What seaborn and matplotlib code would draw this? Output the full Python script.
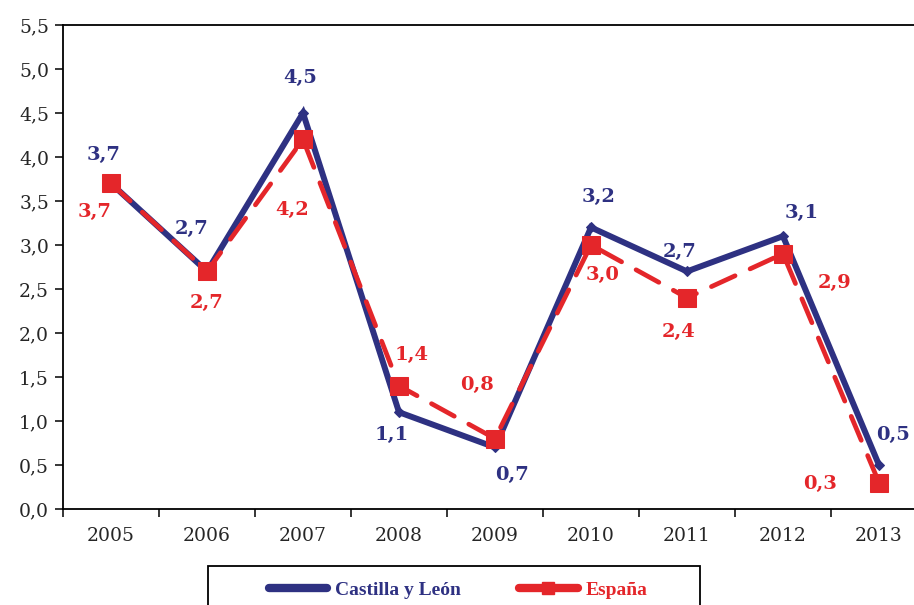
import matplotlib
matplotlib.use("Agg")
import matplotlib.pyplot as plt
import seaborn as sns
import pandas as pd
from matplotlib.patches import Rectangle
from matplotlib.lines import Line2D

years = ["2005", "2006", "2007", "2008", "2009", "2010", "2011", "2012", "2013"]
castilla = [3.7, 2.7, 4.5, 1.1, 0.7, 3.2, 2.7, 3.1, 0.5]
espana = [3.7, 2.7, 4.2, 1.4, 0.8, 3.0, 2.4, 2.9, 0.3]
y_ticks = [0.0, 0.5, 1.0, 1.5, 2.0, 2.5, 3.0, 3.5, 4.0, 4.5, 5.0, 5.5]
series_names = ["Castilla y León", "España"]

# label offsets (pixels) — styling only
cyl_offsets = [(-7, 28), (-15, 42), (-3, 35), (-7, -23), (17, -28), (8, 30), (-7, 19), (19, 23), (14, 30)]
es_offsets = [(-16, -29), (0, -32), (-11, -71), (13, 31), (-18, 54), (12, -30), (-8, -34), (52, -29), (-59, -1)]

NAVY = "#2E3182"
RED = "#E4262A"

sns.set_style("ticks")
plt.rcParams["font.family"] = ["DejaVu Serif", "DejaVu Sans"]

fig = plt.figure(figsize=(9.14, 6.05), dpi=100)
ax = fig.add_axes([63 / 914, 96 / 605, 864 / 914, 484 / 605])

pos = list(range(len(years)))
df_c = pd.DataFrame({"x": pos, "y": castilla})
df_e = pd.DataFrame({"x": pos, "y": espana})

sns.lineplot(data=df_c, x="x", y="y", ax=ax, color=NAVY, linewidth=4.3,
             marker="D", markersize=5, markeredgecolor=NAVY, label=series_names[0],
             solid_joinstyle="miter", zorder=3)
sns.lineplot(data=df_e, x="x", y="y", ax=ax, color=RED, linewidth=3.4,
             marker="s", markersize=13, markeredgecolor=RED, label=series_names[1],
             zorder=4)
lines = ax.get_lines()
lines[1].set_linestyle((0, (5.5, 3.5)))
lines[1].set_dash_capstyle("round")

for i, v in enumerate(castilla):
    ax.annotate(f"{v:.1f}".replace(".", ","), (pos[i], v), xytext=cyl_offsets[i],
                textcoords="offset pixels", ha="center", va="center",
                fontsize=14, fontweight="bold", color=NAVY, zorder=6)
for i, v in enumerate(espana):
    ax.annotate(f"{v:.1f}".replace(".", ","), (pos[i], v), xytext=es_offsets[i],
                textcoords="offset pixels", ha="center", va="center",
                fontsize=14, fontweight="bold", color=RED, zorder=6)

ax.set_xlim(-0.5, len(years) - 0.5)
ax.set_ylim(0, 5.5)
ax.set_yticks(y_ticks)
ax.set_yticklabels([f"{t:.1f}".replace(".", ",") for t in y_ticks], fontsize=13.5)
ax.set_xticks([p - 0.5 for p in pos] + [len(years) - 0.5])
ax.set_xticklabels([])
ax.set_xticks(pos, minor=True)
ax.set_xticklabels(years, minor=True, fontsize=13.5)
ax.tick_params(axis="x", which="minor", length=0, pad=13)
ax.tick_params(axis="x", which="major", length=6, width=1.3, direction="out")
ax.tick_params(axis="y", length=6, width=1.3, direction="out", pad=4)
ax.set_xlabel("")
ax.set_ylabel("")
for s in ["left", "bottom", "top", "right"]:
    ax.spines[s].set_visible(True)
    ax.spines[s].set_linewidth(1.3)
    ax.spines[s].set_color("black")
ax.grid(False)
ax.get_legend().remove()

# legend
fig.add_artist(Rectangle((208 / 914, -0.05), 492 / 914, (605 - 566) / 605 + 0.05,
                         transform=fig.transFigure, fill=False, lw=1.3, edgecolor="black"))
handles = [
    Line2D([], [], color=NAVY, lw=6, solid_capstyle="round", marker="D", markersize=3,
           markeredgecolor=NAVY),
    Line2D([], [], color=RED, lw=6, solid_capstyle="round", marker="s", markersize=9,
           markeredgecolor=RED),
]
leg = fig.legend(handles, series_names, loc="center", bbox_to_anchor=(458 / 914, 1 - 590 / 605),
                 ncol=2, frameon=False, handlelength=3.0, handletextpad=0.4, columnspacing=3.0,
                 prop={"family": "Liberation Serif", "weight": "bold", "size": 14})
for t, c in zip(leg.get_texts(), [NAVY, RED]):
    t.set_color(c)

fig.savefig("out.png", dpi=100)
